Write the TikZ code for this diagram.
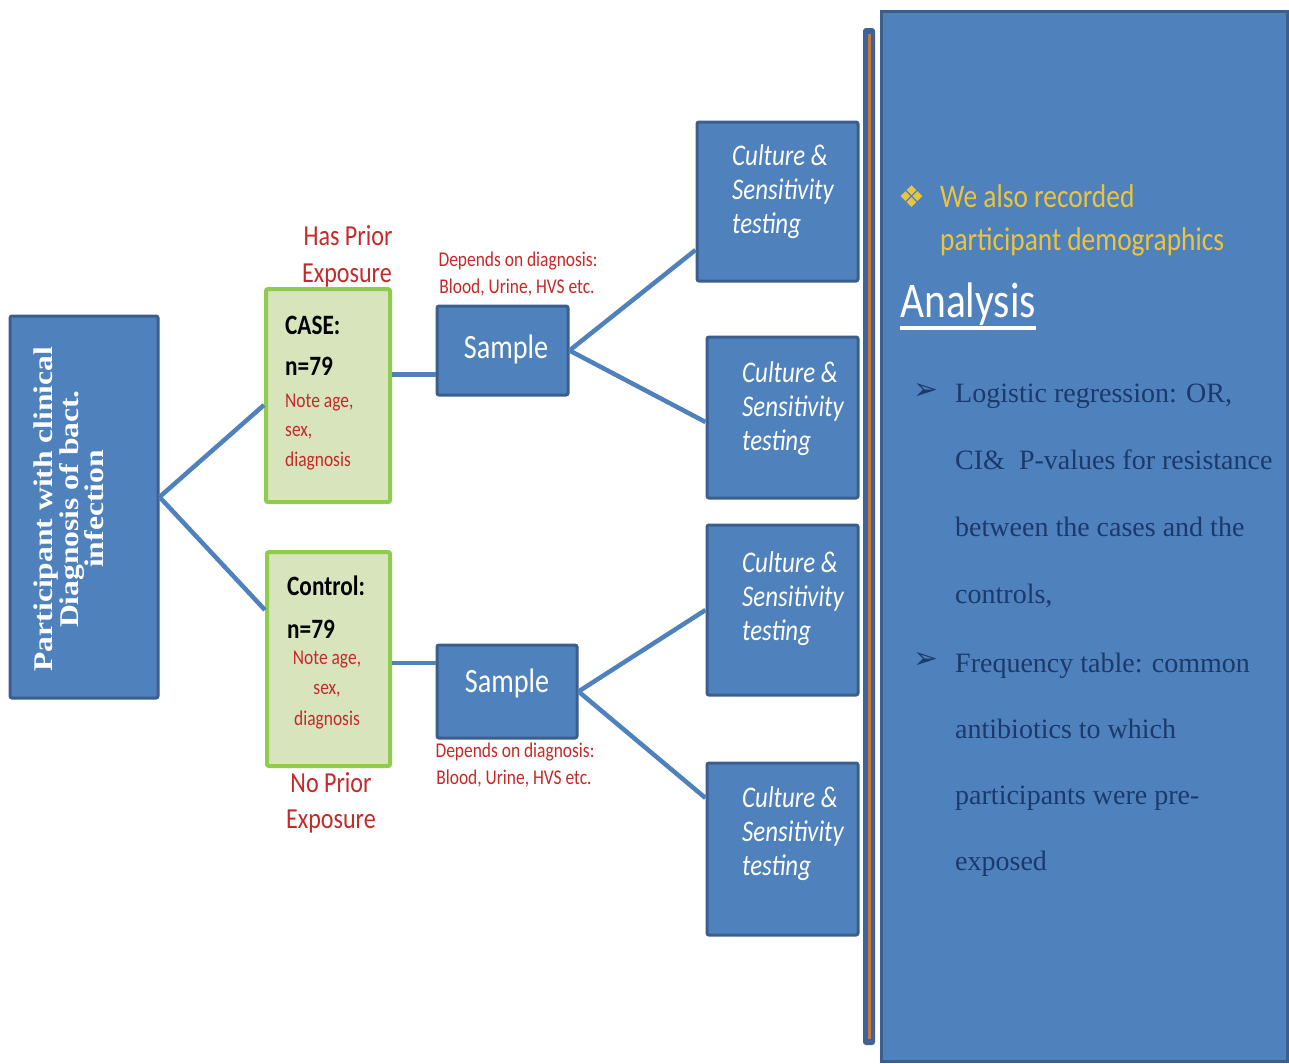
\documentclass[tikz,border=0pt]{standalone}
\usepackage{fontspec}
\setmainfont{Carlito}[FakeStretch=0.83]
\newfontfamily\calf{Carlito}[FakeStretch=0.83]
\newfontfamily\serf{Liberation Serif}
\newfontfamily\serrot{Liberation Serif}[FakeStretch=1.17]
\newfontfamily\dejav{DejaVu Sans}
\definecolor{boxblue}{HTML}{4F81BD}
\definecolor{boxedge}{HTML}{3A5F8F}
\definecolor{grnedge}{HTML}{8FCB4E}
\definecolor{grnfill}{HTML}{D8E4BC}
\definecolor{redc}{HTML}{C42A2A}
\definecolor{goldc}{HTML}{EBC43F}
\definecolor{navyc}{HTML}{1B3A6B}
\definecolor{orangec}{HTML}{C8783A}
\definecolor{bardark}{HTML}{3E639A}
\tikzset{
  bluebox/.style={draw=boxedge, fill=boxblue, line width=3pt, rounded corners=2pt, inner sep=0pt},
  greenbox/.style={draw=grnedge, fill=grnfill, line width=4pt, rounded corners=2pt, inner sep=0pt},
  conn/.style={draw=boxblue, line width=4.5pt},
  txt/.style={inner sep=0pt, anchor=base west},
  ctxt/.style={inner sep=0pt, anchor=base},
  redsmall/.style={text=redc, font=\calf\fontsize{21}{21}\selectfont},
  redmid/.style={text=redc, font=\calf\fontsize{21}{21}\selectfont},
  redbig/.style={text=redc, font=\calf\fontsize{29}{29}\selectfont},
  blackbold/.style={text=black, font=\calf\bfseries\fontsize{28}{28}\selectfont},
  cstext/.style={text=white, font=\calf\itshape\fontsize{30}{30}\selectfont},
  samptext/.style={text=white, font=\calf\fontsize{34}{34}\selectfont},
  goldtext/.style={text=goldc, font=\calf\fontsize{33}{33}\selectfont},
  sertext/.style={text=navyc, font=\serf\fontsize{28}{28}\selectfont},
  bulletsym/.style={inner sep=0pt, font=\dejav\fontsize{30}{30}\selectfont},
}
\begin{document}
\begin{tikzpicture}[x=1pt,y=-1pt]
\useasboundingbox (0,0) rectangle (1289,1063);
\clip (0,0) rectangle (1289,1063);
\fill[white] (0,0) rectangle (1289,1063);

% boxes
\node[bluebox, minimum width=148pt, minimum height=382pt] (left) at (84,507) {};
\node[greenbox, minimum width=124pt, minimum height=213pt] (case) at (328,395.5) {};
\node[greenbox, minimum width=123pt, minimum height=214pt] (ctrl) at (328.5,659) {};
\node[bluebox, minimum width=131pt, minimum height=89pt] (s1) at (502.5,350.5) {};
\node[bluebox, minimum width=140pt, minimum height=93pt] (s2) at (507,691.5) {};
\node[bluebox, minimum width=161pt, minimum height=159pt] (cs1) at (777.5,201.5) {};
\node[bluebox, minimum width=151pt, minimum height=161pt] (cs2) at (782.5,417.5) {};
\node[bluebox, minimum width=151pt, minimum height=170pt] (cs3) at (782.5,610) {};
\node[bluebox, minimum width=151pt, minimum height=172pt] (cs4) at (782.5,849) {};

% separator bar and panel
\node[fill=bardark, rounded corners=3pt, inner sep=0pt, minimum width=12pt, minimum height=1017pt] (bar) at (869,536.5) {};
\draw[orangec, line width=3pt] ([yshift=-6pt]bar.north) -- ([yshift=6pt]bar.south);
\node[draw=boxedge, fill=boxblue, line width=3pt, inner sep=0pt, minimum width=406pt, minimum height=1050pt] (panel) at (1084,536) {};

% connectors
\draw[conn] ([yshift=10pt]left.east) -- ([yshift=-9.5pt]case.west);
\draw[conn] ([yshift=10pt]left.east) -- ([yshift=49pt]ctrl.west);
\draw[conn] ([yshift=21pt]case.east) -- ([yshift=21pt]case.east -| s1.west);
\draw[conn] ([yshift=-4pt]ctrl.east) -- ([yshift=-4pt]ctrl.east -| s2.west);
\draw[conn] (s1.east) -- ([yshift=-48.5pt]cs1.west);
\draw[conn] (s1.east) -- ([yshift=-4.5pt]cs2.west);
\draw[conn] (s2.east) -- (cs3.west);
\draw[conn] (s2.east) -- ([yshift=51pt]cs4.west);

% left box text
\node[rotate=90, inner sep=0pt, align=center, text=white, font=\serrot\bfseries\fontsize{27}{25.5}\selectfont] (ptxt) at (69,509) {Participant with clinical\\Diagnosis of bact.\\infection};

% case / control texts
\node[txt, blackbold] (caset) at (285,334) {CASE:};
\node[txt, blackbold] (casen) at (285,375) {n=79};
\foreach \t [count=\i from 0] in {{Note age,},{sex,},diagnosis}
  \node[txt, redsmall] (caser\i) at (285,407+29.5*\i) {\t};
\node[txt, blackbold] (ctrlt) at (287,595) {Control:};
\node[txt, blackbold] (ctrln) at (287,638) {n=79};
\foreach \t [count=\i from 0] in {{Note age,},{sex,},diagnosis}
  \node[ctxt, redsmall] (ctrlr\i) at (327,664+30.5*\i) {\t};

\node[ctxt, redbig] (has1) at (348,245) {Has Prior};
\node[ctxt, redbig] (has2) at (347,282) {Exposure};
\node[ctxt, redbig] (no1) at (331,792) {No Prior};
\node[ctxt, redbig] (no2) at (331,828) {Exposure};

% sample texts
\node[ctxt, samptext] (s1t) at (506,358) {Sample};
\node[ctxt, samptext] (s2t) at (507,692) {Sample};
\node[ctxt, redmid] (d1a) at (518,266) {Depends on diagnosis:};
\node[ctxt, redmid] (d1b) at (517,293) {Blood, Urine, HVS etc.};
\node[ctxt, redmid] (d2a) at (515,757) {Depends on diagnosis:};
\node[ctxt, redmid] (d2b) at (514,784) {Blood, Urine, HVS etc.};

% culture texts
\foreach \t [count=\i from 0] in {Culture \&,Sensitivity,testing}{
  \node[txt, cstext] (cs1t\i) at (732,165+34*\i) {\t};
  \node[txt, cstext] (cs2t\i) at (742,382+34*\i) {\t};
  \node[txt, cstext] (cs3t\i) at (742,572+34*\i) {\t};
  \node[txt, cstext] (cs4t\i) at (742,807+34*\i) {\t};
}

% panel texts
\node[bulletsym, text=goldc] (gbul) at (912,197) {❖};
\node[txt, goldtext] (g1) at (940,207) {We also recorded};
\node[txt, goldtext] (g2) at (940,250) {participant demographics};
\node[txt, text=white, font=\calf\fontsize{50}{50}\selectfont] (an) at (900,317) {Analysis};
\draw[white, line width=4pt] ([yshift=-11pt]an.base west) -- ([yshift=-11pt]an.base east);

\node[bulletsym, text=navyc] (b1) at (926,391) {➢};
\foreach \t [count=\i from 0] in {{Logistic regression: OR,},{CI\&\ \ P-values for resistance},{between the cases and the},{controls,}}
  \node[txt, sertext] (l1\i) at (955,402+67.3*\i) {\t};
\node[bulletsym, text=navyc] (b2) at (926,660) {➢};
\foreach \t [count=\i from 0] in {{Frequency table: common},{antibiotics to which},{participants were pre-},{exposed}}
  \node[txt, sertext] (l2\i) at (955,672+66*\i) {\t};
\end{tikzpicture}
\end{document}
